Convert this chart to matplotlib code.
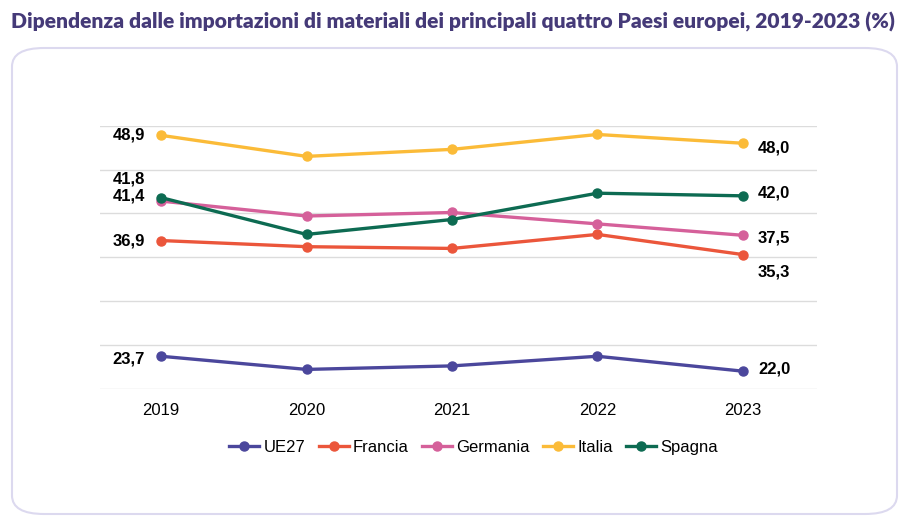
import matplotlib.pyplot as plt
from matplotlib.patches import FancyBboxPatch

# Data
years = [2019, 2020, 2021, 2022, 2023]
ue27 = [23.7, 22.2, 22.6, 23.7, 22.0]
francia = [36.9, 36.2, 36.0, 37.6, 35.3]
germania = [41.4, 39.7, 40.1, 38.8, 37.5]
italia = [48.9, 46.5, 47.3, 49.0, 48.0]
spagna = [41.8, 37.6, 39.3, 42.3, 42.0]

names = ['UE27', 'Francia', 'Germania', 'Italia', 'Spagna']
colors = ['#4b479c', '#eb563b', '#d5609a', '#fbbb38', '#0d6b52']

plt.rcParams['font.family'] = ['Liberation Sans', 'DejaVu Sans']

fig = plt.figure(figsize=(9.18, 5.30), dpi=100)

# rounded frame
frame = FancyBboxPatch((12 / 918, 1 - 514 / 530), (897 - 12) / 918, (514 - 48) / 530,
                       boxstyle='round,pad=0,rounding_size=0.035',
                       transform=fig.transFigure, facecolor='white',
                       edgecolor='#dcd9ef', linewidth=1.5, zorder=-5)
fig.patches.append(frame)

fig.text(11 / 918, 1 - 22 / 530, 'Dipendenza dalle importazioni di materiali dei principali quattro Paesi europei, 2019-2023 (%)',
         fontsize=15.1, fontweight='heavy', color='#453a78', family=['Lato', 'DejaVu Sans'],
         va='center', ha='left')

ax = fig.add_axes([100 / 918, 1 - 388.7 / 530, 717 / 918, 263 / 530], zorder=2)
ax.patch.set_alpha(0)
series = [ue27, francia, germania, italia, spagna]
for vals, name, col in zip(series, names, colors):
    ax.plot(years, vals, color=col, linewidth=2.4, marker='o', markersize=6.5, label=name)

ax.set_xlim(2019 - 0.42, 2023 + 0.51)
ax.set_ylim(20, 50)
ax.set_yticks([20, 25, 30, 35, 40, 45, 50])
ax.set_yticklabels([])
ax.set_xticks(years)
ax.tick_params(axis='both', length=0, labelsize=12)
ax.tick_params(axis='x', pad=10)
ax.grid(axis='y', color='#dcdcdc', linewidth=1)
ax.set_axisbelow(True)
for s in ax.spines.values():
    s.set_visible(False)

# start labels
left_labels = [('48,9', 48.9), ('41,8', 43.9), ('41,4', 42.0), ('36,9', 36.9), ('23,7', 23.4)]
for txt, y in left_labels:
    ax.annotate(txt, (2019, y), xytext=(-11.5, 0), textcoords='offset points',
                ha='right', va='center', fontsize=12, fontweight='bold')
# end labels
right_labels = [('48,0', 47.4), ('42,0', 42.35), ('37,5', 37.15), ('35,3', 33.35), ('22,0', 22.3)]
for txt, y in right_labels:
    ax.annotate(txt, (2023, y), xytext=(11, 0), textcoords='offset points',
                ha='left', va='center', fontsize=12, fontweight='bold')

ax.legend(loc='upper center', bbox_to_anchor=(0.521, -0.137), ncol=5, frameon=False,
          fontsize=12, handlelength=1.8, handletextpad=0.25, columnspacing=0.8)

fig.savefig('out.png', dpi=100)
